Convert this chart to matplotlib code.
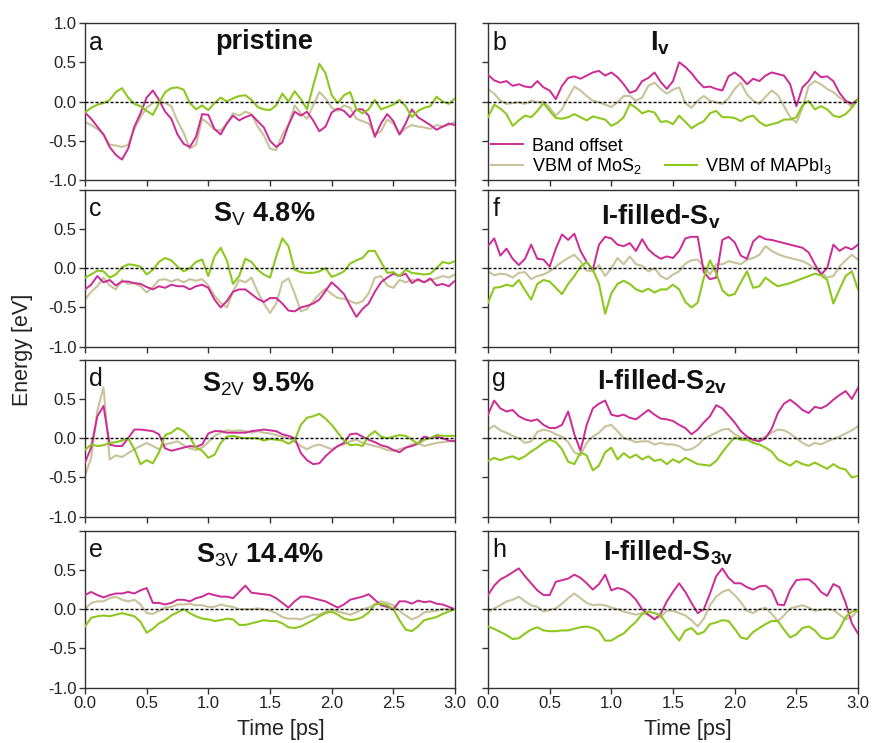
import numpy as np
import matplotlib
matplotlib.use("Agg")
import matplotlib.pyplot as plt
from matplotlib.lines import Line2D

plt.rcParams['font.family'] = ['Liberation Sans', 'DejaVu Sans']
plt.rcParams['mathtext.fontset'] = 'custom'
plt.rcParams['mathtext.rm'] = 'Liberation Sans'
plt.rcParams['mathtext.it'] = 'Liberation Sans:italic'
plt.rcParams['mathtext.bf'] = 'Liberation Sans:bold'
plt.rcParams['axes.unicode_minus'] = False

# time axis (ps), sampled every 0.05 ps
time_ps = [0.00, 0.05, 0.10, 0.15, 0.20, 0.25, 0.30, 0.35, 0.40, 0.45,
           0.50, 0.55, 0.60, 0.65, 0.70, 0.75, 0.80, 0.85, 0.90, 0.95,
           1.00, 1.05, 1.10, 1.15, 1.20, 1.25, 1.30, 1.35, 1.40, 1.45,
           1.50, 1.55, 1.60, 1.65, 1.70, 1.75, 1.80, 1.85, 1.90, 1.95,
           2.00, 2.05, 2.10, 2.15, 2.20, 2.25, 2.30, 2.35, 2.40, 2.45,
           2.50, 2.55, 2.60, 2.65, 2.70, 2.75, 2.80, 2.85, 2.90, 2.95,
           3.00]

# a: pristine
a_band = [-0.14, -0.22, -0.32, -0.42, -0.58, -0.68, -0.74, -0.60, -0.32, -0.15,
          0.05, 0.14, 0.02, -0.13, -0.22, -0.42, -0.54, -0.58, -0.45, -0.16,
          -0.17, -0.35, -0.42, -0.28, -0.18, -0.24, -0.20, -0.17, -0.25, -0.33,
          -0.50, -0.58, -0.52, -0.30, -0.13, -0.18, -0.13, -0.24, -0.38, -0.32,
          -0.14, -0.09, -0.12, -0.20, -0.10, -0.10, -0.18, -0.45, -0.28, -0.16,
          -0.25, -0.42, -0.28, -0.10, -0.20, -0.25, -0.30, -0.36, -0.32, -0.28,
          -0.30]
a_mos2 = [-0.26, -0.30, -0.35, -0.42, -0.55, -0.56, -0.58, -0.55, -0.35, -0.20,
          -0.08, -0.02, 0.00, -0.02, -0.06, -0.25, -0.40, -0.60, -0.55, -0.22,
          -0.28, -0.36, -0.37, -0.28, -0.15, -0.18, -0.13, -0.16, -0.32, -0.43,
          -0.60, -0.62, -0.42, -0.30, -0.05, -0.15, -0.22, -0.05, 0.12, 0.04,
          -0.08, -0.12, -0.05, -0.08, -0.22, -0.25, -0.28, -0.42, -0.38, -0.23,
          -0.28, -0.42, -0.34, -0.30, -0.32, -0.33, -0.35, -0.30, -0.32, -0.30,
          -0.26]
a_mapbi3 = [-0.14, -0.08, -0.04, -0.02, 0.02, 0.12, 0.17, 0.05, -0.03, -0.06,
            -0.12, -0.17, -0.02, 0.12, 0.17, 0.18, 0.15, -0.02, -0.10, -0.05,
            -0.11, -0.02, 0.05, 0.00, 0.04, 0.07, 0.08, 0.02, -0.07, -0.10,
            -0.11, -0.05, 0.10, 0.00, 0.13, 0.03, -0.10, 0.20, 0.48, 0.36,
            0.08, -0.02, 0.08, 0.12, -0.10, -0.15, -0.10, 0.02, -0.10, -0.07,
            -0.04, 0.02, -0.06, -0.20, -0.12, -0.08, -0.06, 0.06, 0.00, -0.03,
            0.04]

# b: Iv
b_band = [0.34, 0.27, 0.24, 0.26, 0.20, 0.22, 0.19, 0.18, 0.26, 0.18,
          0.14, 0.03, 0.20, 0.30, 0.32, 0.29, 0.33, 0.37, 0.39, 0.33,
          0.37, 0.31, 0.22, 0.11, 0.14, 0.26, 0.30, 0.37, 0.25, 0.16,
          0.26, 0.50, 0.44, 0.36, 0.26, 0.18, 0.19, 0.16, 0.14, 0.32,
          0.37, 0.31, 0.22, 0.29, 0.26, 0.33, 0.37, 0.35, 0.33, 0.22,
          -0.06, 0.18, 0.26, 0.38, 0.31, 0.32, 0.26, 0.11, 0.01, -0.03,
          0.03]
b_mos2 = [0.16, 0.10, 0.01, -0.03, -0.02, -0.01, -0.03, 0.01, -0.01, 0.00,
          -0.08, -0.18, -0.10, 0.05, 0.19, 0.14, 0.07, 0.01, -0.01, -0.04,
          -0.07, -0.01, 0.07, 0.07, 0.01, 0.05, 0.20, 0.24, 0.16, 0.10,
          0.15, 0.18, -0.02, -0.08, 0.01, 0.07, 0.01, -0.01, -0.03, 0.04,
          0.16, 0.24, 0.09, 0.01, -0.03, 0.06, 0.14, 0.08, -0.06, -0.20,
          -0.27, -0.08, 0.20, 0.26, 0.22, 0.16, 0.12, 0.05, 0.00, -0.07,
          0.03]
b_mapbi3 = [-0.20, -0.04, -0.09, -0.16, -0.31, -0.24, -0.18, -0.20, -0.12, -0.02,
            -0.12, -0.21, -0.22, -0.20, -0.16, -0.20, -0.24, -0.19, -0.21, -0.23,
            -0.31, -0.27, -0.20, -0.03, -0.08, -0.15, -0.12, -0.14, -0.26, -0.25,
            -0.29, -0.18, -0.26, -0.34, -0.29, -0.25, -0.15, -0.12, -0.20, -0.20,
            -0.21, -0.25, -0.20, -0.18, -0.26, -0.31, -0.29, -0.27, -0.23, -0.23,
            -0.20, -0.05, 0.01, -0.10, -0.06, -0.10, -0.18, -0.20, -0.16, -0.08,
            0.03]

# c: Sv 4.8%
c_band = [-0.27, -0.21, -0.10, -0.18, -0.15, -0.22, -0.17, -0.17, -0.19, -0.20,
          -0.24, -0.27, -0.23, -0.25, -0.21, -0.23, -0.23, -0.27, -0.23, -0.21,
          -0.25, -0.40, -0.50, -0.42, -0.30, -0.27, -0.27, -0.33, -0.39, -0.43,
          -0.38, -0.38, -0.45, -0.54, -0.55, -0.50, -0.48, -0.45, -0.40, -0.29,
          -0.18, -0.25, -0.33, -0.48, -0.62, -0.52, -0.45, -0.30, -0.18, -0.12,
          -0.07, -0.10, -0.07, -0.19, -0.14, -0.18, -0.13, -0.22, -0.20, -0.23,
          -0.16]
c_mos2 = [-0.40, -0.30, -0.23, -0.12, -0.22, -0.27, -0.15, -0.20, -0.19, -0.23,
          -0.31, -0.24, -0.15, -0.14, -0.17, -0.14, -0.18, -0.14, -0.16, -0.14,
          -0.22, -0.35, -0.44, -0.50, -0.30, -0.15, -0.18, -0.12, -0.30, -0.45,
          -0.57, -0.45, -0.18, -0.13, -0.32, -0.55, -0.52, -0.42, -0.33, -0.26,
          -0.33, -0.38, -0.39, -0.42, -0.45, -0.42, -0.32, -0.12, -0.10, -0.22,
          -0.25, -0.15, -0.18, -0.15, -0.16, -0.18, -0.15, -0.13, -0.10, -0.12,
          -0.08]
c_mapbi3 = [-0.12, -0.08, -0.03, -0.04, -0.12, -0.08, 0.01, 0.05, 0.04, 0.02,
            -0.08, -0.02, 0.08, 0.13, 0.10, 0.02, -0.04, 0.00, 0.08, 0.11,
            -0.10, 0.15, 0.26, 0.10, -0.20, -0.10, 0.12, 0.08, -0.02, -0.08,
            -0.12, 0.15, 0.38, 0.28, -0.02, -0.05, -0.06, -0.06, -0.04, 0.00,
            -0.11, -0.08, -0.04, 0.06, 0.10, 0.13, 0.22, 0.22, 0.08, -0.06,
            -0.05, -0.10, -0.02, -0.06, -0.07, -0.08, -0.07, 0.00, 0.08, 0.06,
            0.09]

# d: S2v 9.5%
d_band = [-0.31, -0.12, 0.28, 0.41, -0.08, -0.10, -0.10, 0.00, 0.11, 0.11,
          0.10, 0.09, 0.05, -0.13, -0.16, -0.14, -0.12, -0.10, -0.11, -0.08,
          0.06, 0.09, 0.09, 0.07, 0.07, 0.07, 0.07, 0.09, 0.10, 0.11,
          0.10, 0.09, 0.05, 0.03, 0.00, -0.19, -0.28, -0.33, -0.32, -0.23,
          -0.16, -0.10, -0.06, 0.05, 0.06, 0.02, -0.02, -0.05, -0.09, -0.11,
          -0.15, -0.18, -0.12, -0.10, -0.07, 0.02, 0.00, 0.02, 0.00, -0.03,
          -0.04]
d_mos2 = [-0.48, -0.25, 0.35, 0.65, -0.27, -0.22, -0.24, -0.19, -0.14, -0.10,
          -0.06, -0.10, -0.14, -0.08, -0.06, -0.04, -0.09, -0.13, -0.15, -0.12,
          -0.05, 0.03, 0.07, 0.10, 0.09, 0.10, 0.09, 0.07, 0.09, 0.07,
          0.06, 0.04, 0.02, 0.00, -0.04, -0.10, -0.14, -0.10, -0.08, -0.11,
          -0.14, -0.10, -0.08, -0.04, -0.02, -0.06, -0.08, -0.10, -0.12, -0.15,
          -0.16, -0.14, -0.12, -0.08, -0.06, -0.10, -0.08, -0.06, -0.05, -0.04,
          -0.03]
d_mapbi3 = [-0.15, -0.08, -0.10, -0.09, -0.06, -0.05, -0.03, 0.00, -0.14, -0.33,
            -0.28, -0.32, -0.18, 0.04, 0.07, 0.13, 0.09, 0.01, -0.12, -0.16,
            -0.25, -0.21, -0.06, 0.02, 0.03, 0.01, 0.00, 0.00, 0.00, -0.03,
            -0.01, -0.02, -0.03, -0.07, -0.03, 0.17, 0.26, 0.28, 0.31, 0.25,
            0.17, 0.07, -0.03, -0.09, -0.08, -0.10, 0.03, 0.09, 0.02, 0.00,
            0.02, 0.04, 0.03, -0.02, -0.07, -0.02, 0.00, 0.04, 0.03, 0.03,
            0.03]

# e: S3v 14.4%
e_band = [0.18, 0.22, 0.18, 0.15, 0.18, 0.20, 0.20, 0.22, 0.20, 0.24,
          0.27, 0.08, 0.08, 0.06, 0.08, 0.12, 0.12, 0.10, 0.14, 0.16,
          0.20, 0.18, 0.16, 0.16, 0.14, 0.22, 0.30, 0.21, 0.20, 0.19,
          0.18, 0.14, 0.08, 0.02, 0.10, 0.16, 0.16, 0.14, 0.12, 0.10,
          0.06, 0.02, 0.06, 0.12, 0.14, 0.16, 0.19, 0.12, 0.05, 0.03,
          0.00, 0.10, 0.10, 0.07, 0.11, 0.09, 0.10, 0.07, 0.06, 0.03,
          0.00]
e_mos2 = [0.00, 0.08, 0.10, 0.10, 0.14, 0.16, 0.12, 0.10, 0.12, 0.06,
          -0.05, -0.06, -0.02, 0.02, 0.03, 0.06, 0.06, 0.07, 0.05, 0.05,
          0.03, 0.03, 0.06, 0.04, 0.03, 0.00, 0.00, 0.00, 0.01, 0.00,
          -0.02, -0.05, -0.10, -0.12, -0.12, -0.13, -0.10, -0.07, -0.07, -0.03,
          0.00, -0.03, -0.05, -0.07, -0.04, 0.00, 0.02, 0.06, 0.10, 0.08,
          0.05, -0.02, -0.08, -0.13, -0.10, -0.04, -0.03, -0.02, 0.00, 0.00,
          0.00]
e_mapbi3 = [-0.22, -0.11, -0.09, -0.08, -0.09, -0.07, -0.05, -0.07, -0.09, -0.16,
            -0.30, -0.25, -0.18, -0.14, -0.08, -0.04, 0.00, -0.05, -0.09, -0.12,
            -0.13, -0.15, -0.14, -0.12, -0.13, -0.20, -0.20, -0.18, -0.16, -0.14,
            -0.15, -0.15, -0.18, -0.23, -0.24, -0.22, -0.18, -0.14, -0.09, -0.05,
            -0.03, -0.07, -0.12, -0.14, -0.13, -0.10, -0.04, 0.06, 0.07, 0.05,
            0.00, -0.14, -0.26, -0.28, -0.22, -0.14, -0.12, -0.10, -0.06, -0.03,
            0.00]

# f: I-filled-Sv
f_band = [0.28, 0.38, 0.16, 0.25, 0.12, 0.04, 0.12, 0.30, 0.12, 0.11,
          0.02, 0.25, 0.43, 0.36, 0.44, 0.22, 0.08, -0.02, 0.30, 0.40,
          0.38, 0.30, 0.28, 0.32, 0.22, 0.37, 0.24, 0.17, 0.12, 0.15,
          0.13, 0.22, 0.38, 0.40, 0.40, -0.05, -0.14, -0.12, 0.36, 0.40,
          0.33, 0.16, 0.12, 0.34, 0.41, 0.37, 0.36, 0.34, 0.32, 0.30,
          0.28, 0.26, 0.20, 0.05, -0.08, 0.00, 0.30, 0.22, 0.27, 0.24,
          0.30]
f_mos2 = [-0.04, -0.09, -0.07, -0.08, -0.12, -0.06, -0.05, -0.14, -0.10, -0.08,
          -0.04, 0.02, 0.08, 0.13, 0.17, 0.09, -0.03, -0.04, 0.04, -0.10,
          0.00, 0.13, 0.05, 0.15, 0.05, 0.03, -0.04, 0.00, -0.10, -0.14,
          -0.08, -0.04, 0.06, 0.10, 0.11, 0.02, -0.08, 0.05, 0.05, 0.09,
          0.07, 0.05, 0.11, 0.13, 0.17, 0.28, 0.22, 0.18, 0.15, 0.13,
          0.11, 0.09, 0.05, -0.01, -0.05, -0.12, -0.10, 0.02, 0.10, 0.17,
          0.11]
f_mapbi3 = [-0.44, -0.25, -0.24, -0.21, -0.23, -0.15, -0.28, -0.40, -0.20, -0.15,
            -0.17, -0.25, -0.33, -0.20, -0.10, 0.02, 0.08, -0.02, -0.20, -0.58,
            -0.32, -0.20, -0.16, -0.20, -0.27, -0.30, -0.26, -0.31, -0.27, -0.27,
            -0.21, -0.27, -0.43, -0.50, -0.44, -0.12, 0.10, -0.06, -0.28, -0.35,
            -0.33, -0.18, -0.04, -0.25, -0.23, -0.12, -0.18, -0.23, -0.21, -0.19,
            -0.16, -0.13, -0.10, -0.07, -0.09, -0.15, -0.45, -0.27, -0.10, -0.04,
            -0.27]

# g: I-filled-S2v
g_band = [0.30, 0.48, 0.38, 0.34, 0.36, 0.28, 0.24, 0.22, 0.24, 0.17,
          0.13, 0.13, 0.17, 0.34, 0.05, -0.16, 0.17, 0.38, 0.44, 0.48,
          0.30, 0.28, 0.30, 0.26, 0.24, 0.30, 0.36, 0.30, 0.25, 0.24,
          0.22, 0.17, 0.13, 0.05, 0.11, 0.20, 0.28, 0.42, 0.38, 0.29,
          0.20, 0.09, 0.02, -0.02, -0.04, 0.00, 0.12, 0.32, 0.44, 0.49,
          0.43, 0.36, 0.32, 0.40, 0.38, 0.42, 0.49, 0.55, 0.60, 0.50,
          0.64]
g_mos2 = [0.11, 0.16, 0.10, 0.07, 0.03, 0.00, -0.06, -0.04, 0.08, 0.11,
          0.09, 0.05, 0.02, -0.05, -0.18, -0.22, -0.06, 0.02, 0.07, 0.15,
          0.17, 0.09, 0.00, -0.02, -0.05, -0.04, -0.04, -0.08, -0.06, -0.08,
          -0.08, -0.10, -0.15, -0.14, -0.09, -0.01, 0.03, 0.07, 0.11, 0.12,
          0.05, 0.01, 0.00, -0.03, -0.02, 0.02, 0.07, 0.11, 0.10, 0.06,
          0.00, -0.06, -0.10, -0.06, -0.08, -0.04, -0.01, 0.02, 0.06, 0.10,
          0.15]
g_mapbi3 = [-0.29, -0.25, -0.28, -0.25, -0.23, -0.27, -0.23, -0.17, -0.12, -0.06,
            -0.02, -0.05, -0.14, -0.30, -0.33, -0.18, -0.22, -0.41, -0.35, -0.18,
            -0.12, -0.27, -0.19, -0.25, -0.21, -0.27, -0.23, -0.29, -0.27, -0.33,
            -0.27, -0.31, -0.25, -0.29, -0.33, -0.34, -0.35, -0.29, -0.18, -0.08,
            0.01, -0.02, -0.02, -0.06, -0.08, -0.12, -0.17, -0.27, -0.31, -0.35,
            -0.29, -0.33, -0.35, -0.31, -0.35, -0.39, -0.33, -0.38, -0.40, -0.50,
            -0.48]

# h: I-filled-S3v
h_band = [0.18, 0.30, 0.38, 0.42, 0.47, 0.52, 0.42, 0.33, 0.24, 0.18,
          0.18, 0.35, 0.37, 0.39, 0.44, 0.40, 0.33, 0.25, 0.32, 0.44,
          0.24, 0.27, 0.25, 0.20, 0.12, 0.00, -0.07, -0.13, -0.06, 0.10,
          0.22, 0.33, 0.22, 0.08, -0.05, 0.00, 0.20, 0.42, 0.52, 0.40,
          0.33, 0.33, 0.28, 0.25, 0.29, 0.30, 0.24, 0.06, 0.05, 0.25,
          0.37, 0.38, 0.38, 0.32, 0.22, 0.17, 0.32, 0.28, 0.08, -0.18,
          -0.31]
h_mos2 = [-0.03, 0.01, 0.05, 0.10, 0.12, 0.16, 0.10, 0.05, 0.03, -0.03,
          -0.01, 0.01, 0.07, 0.14, 0.20, 0.14, 0.08, 0.05, 0.06, 0.05,
          0.02, 0.00, -0.03, -0.05, -0.07, -0.05, -0.07, -0.12, -0.10, -0.02,
          -0.02, -0.05, -0.08, -0.14, -0.22, -0.12, 0.05, 0.16, 0.22, 0.25,
          0.18, 0.09, -0.02, -0.05, 0.00, 0.02, -0.06, -0.15, -0.08, 0.01,
          0.03, 0.05, 0.02, -0.02, -0.01, 0.00, -0.01, -0.07, -0.13, -0.10,
          -0.01]
h_mapbi3 = [-0.22, -0.25, -0.29, -0.33, -0.38, -0.37, -0.31, -0.26, -0.23, -0.27,
            -0.28, -0.28, -0.27, -0.27, -0.25, -0.23, -0.22, -0.24, -0.28, -0.40,
            -0.40, -0.35, -0.31, -0.23, -0.16, -0.06, -0.03, -0.05, -0.08, -0.19,
            -0.30, -0.40, -0.27, -0.24, -0.32, -0.29, -0.19, -0.17, -0.14, -0.15,
            -0.25, -0.36, -0.38, -0.29, -0.24, -0.19, -0.15, -0.15, -0.26, -0.36,
            -0.32, -0.24, -0.22, -0.27, -0.36, -0.38, -0.36, -0.25, -0.10, -0.03,
            -0.01]

series_labels = ['Band offset', 'VBM of MoS$_2$', 'VBM of MAPbI$_3$']
c_band_col = '#CD2A96'
c_mos2_col = '#C8C39A'
c_map_col = '#8CC81E'

# (row, col, letter, title, band, mos2, mapbi3, title x, title y)
panels = [
    (0, 0, 'a', 'pristine', a_band, a_mos2, a_mapbi3, 0.484, 0.835),
    (1, 0, 'c', r'S$_\mathrm{V}$ 4.8%', c_band, c_mos2, c_mapbi3, 0.484, 0.80),
    (2, 0, 'd', r'S$_\mathrm{2V}$ 9.5%', d_band, d_mos2, d_mapbi3, 0.47, 0.80),
    (3, 0, 'e', r'S$_\mathrm{3V}$ 14.4%', e_band, e_mos2, e_mapbi3, 0.473, 0.80),
    (0, 1, 'b', r'I$_\mathbf{v}$', b_band, b_mos2, b_mapbi3, 0.465, 0.825),
    (1, 1, 'f', r'I-filled-S$_\mathbf{v}$', f_band, f_mos2, f_mapbi3, 0.468, 0.78),
    (2, 1, 'g', r'I-filled-S$_\mathbf{2v}$', g_band, g_mos2, g_mapbi3, 0.47, 0.81),
    (3, 1, 'h', r'I-filled-S$_\mathbf{3v}$', h_band, h_mos2, h_mapbi3, 0.486, 0.81),
]

fig = plt.figure(figsize=(8.75, 7.43), dpi=100)

lefts = [85 / 875, 488 / 875]
width = 370 / 875
bottoms = [1 - 180 / 743, 1 - 346.7 / 743, 1 - 516.7 / 743, 1 - 687.7 / 743]
height = 157 / 743

for row, col, letter, title, band, mos2, mapbi3, tx, ty in panels:
    ax = fig.add_axes([lefts[col], bottoms[row], width, height])
    l2, = ax.plot(time_ps, mos2, color=c_mos2_col, lw=1.5, zorder=2)
    l1, = ax.plot(time_ps, band, color=c_band_col, lw=1.4, zorder=3)
    l3, = ax.plot(time_ps, mapbi3, color=c_map_col, lw=1.5, zorder=3)
    ax.axhline(0, color='black', lw=1.0, ls=(0, (2.2, 1.4)), zorder=4)

    ax.set_xlim(0, 3.0)
    ax.set_ylim(-1.0, 1.0)
    ax.set_xticks([0, 0.5, 1.0, 1.5, 2.0, 2.5, 3.0])
    ax.set_yticks([-1.0, -0.5, 0.0, 0.5, 1.0])
    ax.tick_params(direction='out', length=4, width=1.0, color='#333333',
                   labelsize=12, labelcolor='#222222', pad=2)
    for sp in ax.spines.values():
        sp.set_color('#333333')
        sp.set_linewidth(1.0)

    if col == 0:
        if row == 0:
            ax.set_yticklabels(['-1.0', '-0.5', '0.0', '0.5', '1.0'])
        else:
            ax.set_yticklabels(['-1.0', '-0.5', '0.0', '0.5', ''])
    else:
        ax.tick_params(labelleft=False)

    if row == 3:
        ax.set_xticklabels(['0.0', '0.5', '1.0', '1.5', '2.0', '2.5', '3.0'])
        ax.set_xlabel('Time [ps]', fontsize=15.5, color='#222222')
        ax.xaxis.set_label_coords(0.53 if col == 0 else 0.54, -0.2)
    else:
        ax.tick_params(labelbottom=False)

    ax.text(0.012, 0.83, letter, transform=ax.transAxes, fontsize=18,
            va='baseline', ha='left', color='#111111')
    ax.text(tx, ty, title, transform=ax.transAxes, fontsize=19.5,
            fontweight='bold', va='baseline', ha='center', color='#111111')

    if letter == 'b':
        blank = Line2D([], [], color='none')
        ax.legend([l1, l2, blank, l3],
                  [series_labels[0], series_labels[1], '', series_labels[2]],
                  ncol=2, loc='lower left', bbox_to_anchor=(0.008, 0.025),
                  frameon=False, fontsize=13, handlelength=1.8,
                  handletextpad=0.45, labelspacing=0.08, columnspacing=1.3,
                  borderpad=0.0, borderaxespad=0.0)

fig.text(0.026, 0.529, 'Energy [eV]', rotation=90, fontsize=15.5,
         va='center', ha='center', color='#222222')

fig.savefig('out.png', dpi=100)
